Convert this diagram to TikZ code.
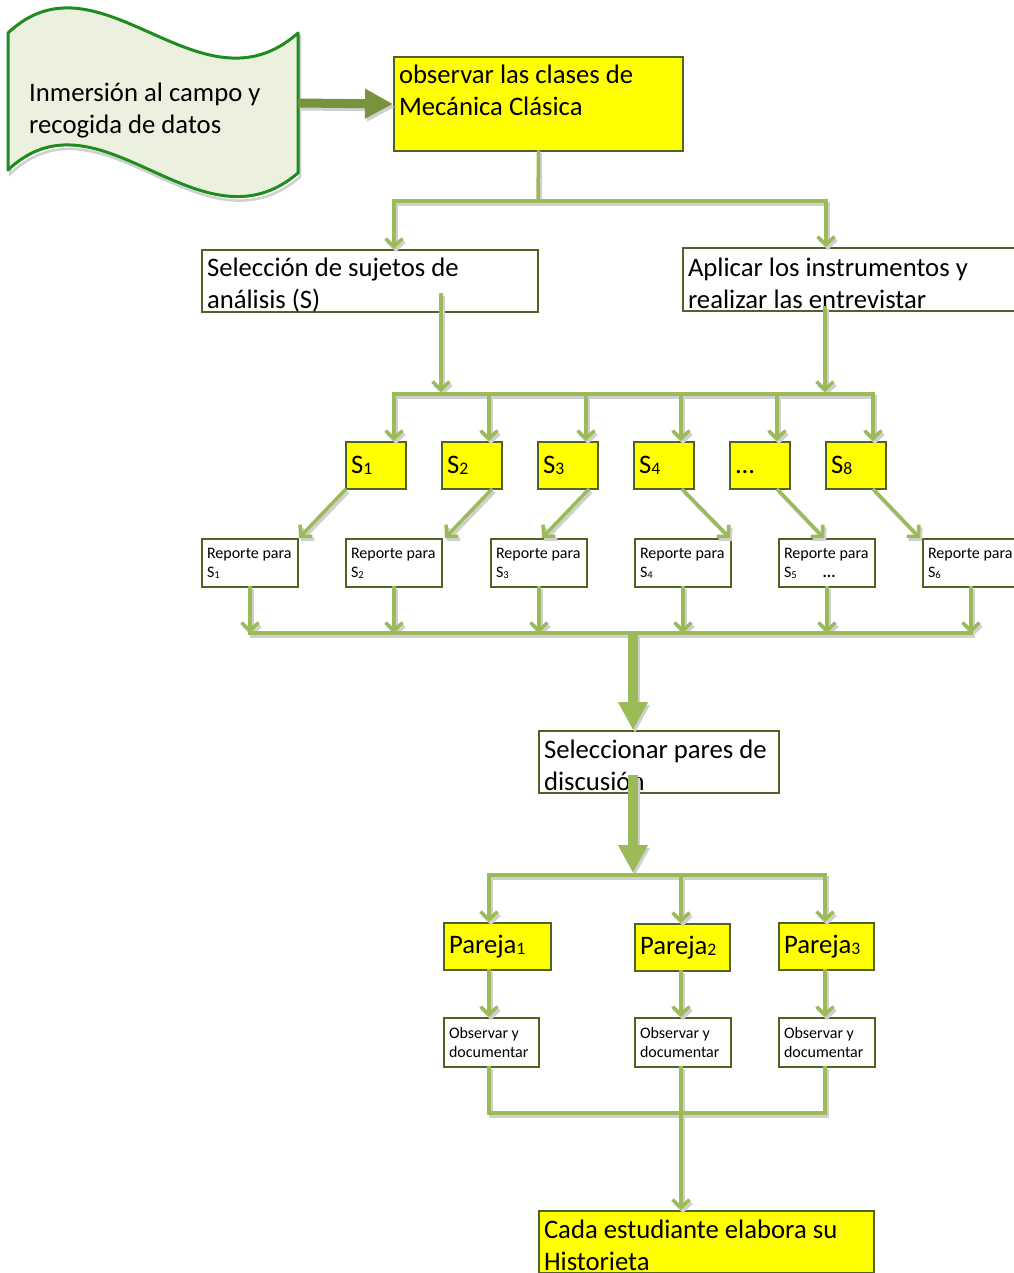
\documentclass[tikz,border=0pt]{standalone}
\usepackage{fontspec}
\usepackage{graphicx}
\setmainfont{Carlito}
\usetikzlibrary{arrows.meta}
\definecolor{yel}{HTML}{FFFF00}
\definecolor{bord}{HTML}{4F6228}
\definecolor{cg}{HTML}{9BBB59}
\definecolor{olv}{HTML}{77933C}
\definecolor{banf}{HTML}{EBF1DE}
\definecolor{banl}{HTML}{1E8C1E}
\definecolor{sg}{HTML}{D0D0D0}
\newcommand\sbx[1]{\raisebox{-0.04em}{\scalebox{0.66}{#1}}}
\newcommand\bigf{\fontsize{26.7}{32}\selectfont}
\newcommand\smf{\fontsize{16}{19.5}\selectfont}
\tikzset{
  bx/.style={draw=bord, line width=2pt, anchor=north west, inner xsep=5pt, inner ysep=0pt, align=flush left, font=\bigf},
  ybx/.style={bx, fill=yel},
  wbx/.style={bx, fill=white},
  smbx/.style={font=\smf},
  two/.style={text height=26pt},
  conncol/.style={draw=cg},
  olvcol/.style={draw=olv},
  conn/.style={conncol, line width=3.5pt, line cap=rect},
  arr/.style={conn, -{Straight Barb[length=8pt,width=17pt]}},
  bigarr/.style={conncol, line width=10pt, -{Triangle[length=28pt,width=28pt]}},
  olvarr/.style={olvcol, line width=9pt, -{Triangle[length=28pt,width=28pt]}},
}
\newcommand\connectors{%
  \draw[olvarr] (banR) -- (box1.west);
  \draw[conn] (box1.south) -- (j1);
  \draw[conn] (j1l) -- (j1r);
  \draw[arr] (j1l) -- (sel.north -| j1l);
  \draw[arr] (j1r) -- (apl.north -| j1r);
  \draw[arr] (selA) -- (selA |- kbar);
  \draw[arr] (aplA) -- (aplA |- kbar);
  \draw[conn] (k1) -- (k6);
  \draw[arr] (k1) -- (S1.north -| k1);
  \draw[arr] (k2) -- (S2.north -| k2);
  \draw[arr] (k3) -- (S3.north -| k3);
  \draw[arr] (k4) -- (S4.north -| k4);
  \draw[arr] (k5) -- (S5.north -| k5);
  \draw[arr] (k6) -- (S8.north -| k6);
  \draw[arr] (S1.south west) -- (R1.north east);
  \draw[arr] ([xshift=19]S2.south) -- ([xshift=2]R2.north east);
  \draw[arr] ([xshift=20]S3.south) -- ([xshift=3]R3.north);
  \draw[arr] ([xshift=19]S4.south) -- ([xshift=-2]R4.north east);
  \draw[arr] ([xshift=18]S5.south) -- ([xshift=-3]R5.north);
  \draw[arr] ([xshift=18]S8.south) -- ([xshift=-2]R6.north west);
  \draw[arr] (R1.south) -- (R1.south |- mbar);
  \draw[arr] (R2.south) -- (R2.south |- mbar);
  \draw[arr] (R3.south) -- (R3.south |- mbar);
  \draw[arr] (R4.south) -- (R4.south |- mbar);
  \draw[arr] (R5.south) -- (R5.south |- mbar);
  \draw[arr] (R6.south) -- (R6.south |- mbar);
  \draw[conn] (R1.south |- mbar) -- (R6.south |- mbar);
  \draw[bigarr] (mbar) -- (sp.north -| mbar);
  \draw[bigarr] (spA) -- (nbar);
  \draw[conn] (p1) -- (p3);
  \draw[arr] (p1) -- (P1.north -| p1);
  \draw[arr] (p2) -- (P2.north -| p2);
  \draw[arr] (p3) -- (P3.north -| p3);
  \draw[arr] (P1.south -| p1) -- (O1.north -| p1);
  \draw[arr] (P2.south -| p2) -- (O2.north -| p2);
  \draw[arr] (P3.south -| p3) -- (O3.north -| p3);
  \draw[conn] (O1.south -| p1) -- (q1) -- (q3) -- (O3.south -| p3);
  \draw[arr] (O2.south -| p2) -- (fin.north -| p2);
}
\begin{document}
\begin{tikzpicture}[x=1pt,y=-1pt]
\useasboundingbox (0,0) rectangle (1013,1273);
% banner
\draw[sg, line width=2.5pt, shift={(2,4)}] (8,33) .. controls (100,-54) and (200,120) .. (298,33) -- (298,173) .. controls (200,257) and (100,83) .. (8,170) -- cycle;
\filldraw[fill=banf, draw=banl, line width=3pt, line join=round] (8,33) .. controls (100,-54) and (200,120) .. (298,33) -- (298,173) .. controls (200,257) and (100,83) .. (8,170) -- cycle;
\node[font=\bigf, align=flush left, anchor=west, inner sep=0pt] (bantxt) at (29,111) {Inmersión al campo y\\recogida de datos};
\coordinate (banR) at (298,103);
% boxes
\node[ybx, minimum width=289pt, minimum height=94pt, text width=279pt, text depth=59pt] (box1) at (393,56) {observar las clases de\\Mecánica Clásica};
\node[wbx, two, minimum width=336pt, minimum height=62pt, text width=326pt] (sel) at (201,249) {Selección de sujetos de\\análisis (S)};
\node[wbx, two, minimum width=345pt, minimum height=63pt, text width=335pt] (apl) at (682,247) {Aplicar los instrumentos y\\realizar las entrevistar};
\node[ybx, minimum width=60pt, minimum height=47pt, text width=50pt] (S1) at (345,441) {S\sbx{1}};
\node[ybx, minimum width=60pt, minimum height=47pt, text width=50pt] (S2) at (441,441) {S\sbx{2}};
\node[ybx, minimum width=60pt, minimum height=47pt, text width=50pt] (S3) at (537,441) {S\sbx{3}};
\node[ybx, minimum width=60pt, minimum height=47pt, text width=50pt] (S4) at (633,441) {S\sbx{4}};
\node[ybx, minimum width=60pt, minimum height=47pt, text width=50pt] (S5) at (729,441) {\vphantom{S\sbx{1}}...};
\node[ybx, minimum width=60pt, minimum height=47pt, text width=50pt] (S8) at (825,441) {S\sbx{8}};
\node[wbx, smbx, minimum width=96pt, minimum height=48pt, text width=86pt] (R1) at (201,538) {Reporte para\\S\sbx{1}};
\node[wbx, smbx, minimum width=96pt, minimum height=48pt, text width=86pt] (R2) at (345,538) {Reporte para\\S\sbx{2}};
\node[wbx, smbx, minimum width=96pt, minimum height=48pt, text width=86pt] (R3) at (490,538) {Reporte para\\S\sbx{3}};
\node[wbx, smbx, minimum width=96pt, minimum height=48pt, text width=86pt] (R4) at (634,538) {Reporte para\\S\sbx{4}};
\node[wbx, smbx, minimum width=96pt, minimum height=48pt, text width=86pt] (R5) at (778,538) {Reporte para\\S\sbx{5}\hspace{26pt}\textbf{...}};
\node[wbx, smbx, minimum width=96pt, minimum height=48pt, text width=86pt] (R6) at (922,538) {Reporte para\\S\sbx{6}};
\node[wbx, two, minimum width=240pt, minimum height=62pt, text width=230pt] (sp) at (538,730) {Seleccionar pares de\\discusión};
\node[ybx, minimum width=107pt, minimum height=47pt, text width=97pt] (P1) at (443,922) {Pareja\sbx{1}};
\node[ybx, minimum width=95pt, minimum height=47pt, text width=85pt] (P2) at (634,923) {Pareja\sbx{2}};
\node[ybx, minimum width=95pt, minimum height=47pt, text width=85pt] (P3) at (778,922) {Pareja\sbx{3}};
\node[wbx, smbx, minimum width=95pt, minimum height=49pt, text width=85pt] (O1) at (443,1017) {Observar y\\documentar};
\node[wbx, smbx, minimum width=96pt, minimum height=49pt, text width=86pt] (O2) at (634,1017) {Observar y\\documentar};
\node[wbx, smbx, minimum width=96pt, minimum height=49pt, text width=86pt] (O3) at (778,1017) {Observar y\\documentar};
\node[ybx, two, minimum width=335pt, minimum height=62pt, text width=325pt] (fin) at (538,1210) {Cada estudiante elabora su\\Historieta};
% junction coordinates
\coordinate (j1) at (538,201);
\coordinate (j1l) at (394,201);
\coordinate (j1r) at (826,201);
\coordinate (selA) at (441,295);
\coordinate (aplA) at (825,308);
\coordinate (kbar) at (633,392);
\coordinate (k1) at (394,394);
\coordinate (k2) at (489,394);
\coordinate (k3) at (586,394);
\coordinate (k4) at (681,394);
\coordinate (k5) at (777,394);
\coordinate (k6) at (873,394);
\coordinate (mbar) at (633,633);
\coordinate (spA) at (633,775);
\coordinate (nbar) at (633,873);
\coordinate (p1) at (489,875);
\coordinate (p2) at (681,875);
\coordinate (p3) at (825,875);
\coordinate (q1) at (489,1113);
\coordinate (q3) at (825,1113);
% connectors: shadows first, then colour
\begin{scope}[transform canvas={shift={(2pt,-3pt)}}, conncol/.style={draw=sg}, olvcol/.style={draw=sg}]
\connectors
\end{scope}
\connectors
\end{tikzpicture}
\end{document}
